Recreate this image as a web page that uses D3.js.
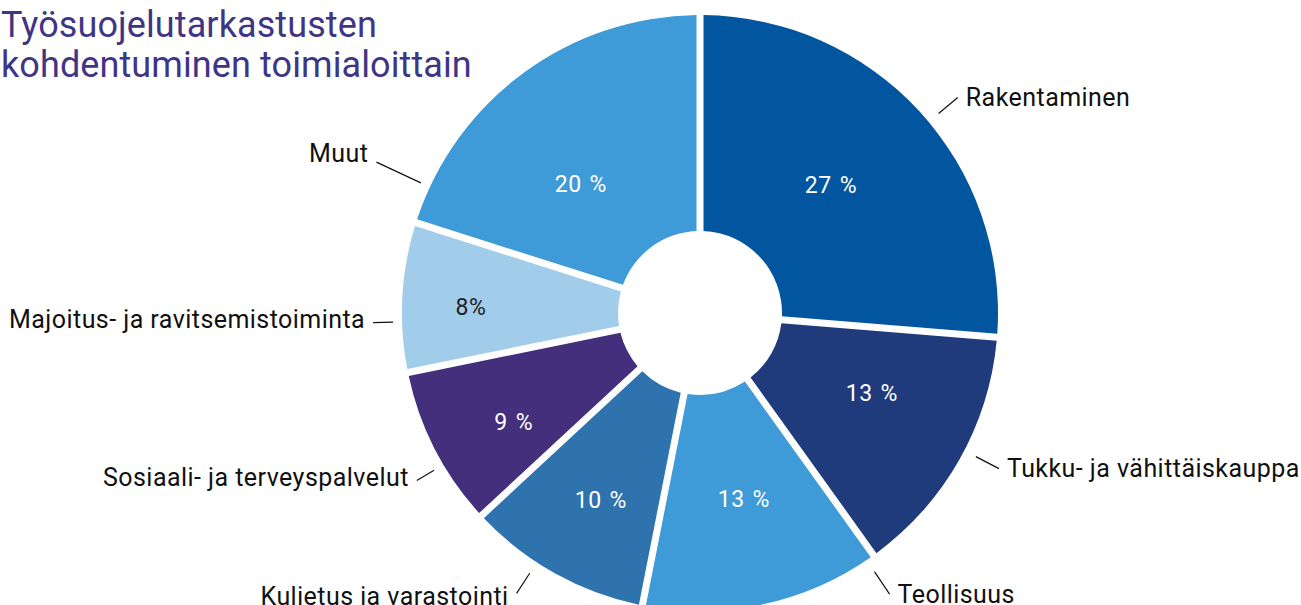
<!DOCTYPE html>
<html>
<head>
<meta charset="utf-8">
<script src="https://cdn.jsdelivr.net/npm/d3@7"></script>
<style>
  html, body { margin: 0; padding: 0; background: #fff; }
  svg { display: block; }
</style>
</head>
<body>
<svg id="chart" width="1301" height="605"></svg>
<script>
// ---- data ----
const categories = ["Rakentaminen", "Tukku- ja vähittäiskauppa", "Teollisuus", "Kuljetus ja varastointi", "Sosiaali- ja terveyspalvelut", "Majoitus- ja ravitsemistoiminta", "Muut"];
// slice sizes
const values = [26.3, 13.8, 13.0, 10.0, 8.7, 8.1, 20.1];
const valueLabels = ["27 %", "13 %", "13 %", "10 %", "9 %", "8%", "20 %"];
const titleLines = ["Työsuojelutarkastusten", "kohdentuminen toimialoittain"];

// ---- styling / layout ----
const colors = ["#02569f", "#203b7b", "#3f9bd7", "#2e72ae", "#432f7b", "#a1cdeb", "#3f9bd7"];
const valueTextColors = ["#fff", "#fff", "#fff", "#fff", "#fff", "#222", "#fff"];
// placement of value labels: angle (deg, clockwise from top) and radius
const valuePosAngle = [45.7, 115.2, 166.8, 207.9, 239.6, 271.5, 317.1];
const valuePosRadius = [183, 190, 192, 212, 216, 229, 175];
// leader lines: angle, inner radius, outer radius; text side
const leaderAngle = [50.1, 117.5, 146.0, 213.2, 239.4, 268.3, 295.0];
const leaderR1 = [311, 311, 312, 311, 309, 307, 308];
const leaderR2 = [336, 337, 339, 335, 329, 327, 357];
const textSide = [1, 1, 1, -1, -1, -1, -1];
const textDy = [0, 0, 0, 3, -3, -3, -9];

const W = 1301, H = 605;
const cx = 700, cy = 313;
const outerR = 298, innerR = 82;
const gap = 7;
const fontFam = "Roboto, 'Noto Sans', sans-serif";

const svg = d3.select("#chart");
const g = svg.append("g").attr("transform", `translate(${cx},${cy})`);

const pie = d3.pie().sort(null).value(d => d);
const arcs = pie(values);

const arc = d3.arc()
  .innerRadius(innerR)
  .outerRadius(outerR)
  .padRadius(outerR)
  .padAngle(gap / outerR);

g.selectAll("path.slice")
  .data(arcs)
  .join("path")
  .attr("class", "slice")
  .attr("d", arc)
  .attr("fill", (d, i) => colors[i]);

const rad = a => a * Math.PI / 180;
const px = (a, r) => r * Math.sin(rad(a));
const py = (a, r) => -r * Math.cos(rad(a));

// value labels
g.selectAll("text.val")
  .data(arcs)
  .join("text")
  .attr("class", "val")
  .attr("x", (d, i) => px(valuePosAngle[i], valuePosRadius[i]))
  .attr("y", (d, i) => py(valuePosAngle[i], valuePosRadius[i]))
  .attr("text-anchor", "middle")
  .attr("dominant-baseline", "central")
  .attr("font-family", fontFam)
  .attr("font-size", 23)
  .attr("letter-spacing", 0.6)
  .attr("word-spacing", 1.5)
  .attr("fill", (d, i) => valueTextColors[i])
  .text((d, i) => valueLabels[i]);

// leader lines
g.selectAll("line.leader")
  .data(arcs)
  .join("line")
  .attr("class", "leader")
  .attr("x1", (d, i) => px(leaderAngle[i], leaderR1[i]))
  .attr("y1", (d, i) => py(leaderAngle[i], leaderR1[i]))
  .attr("x2", (d, i) => px(leaderAngle[i], leaderR2[i]))
  .attr("y2", (d, i) => py(leaderAngle[i], leaderR2[i]))
  .attr("stroke", "#111")
  .attr("stroke-width", 1.2);

// category labels
g.selectAll("text.cat")
  .data(arcs)
  .join("text")
  .attr("class", "cat")
  .attr("x", (d, i) => px(leaderAngle[i], leaderR2[i]) + textSide[i] * 8)
  .attr("y", (d, i) => py(leaderAngle[i], leaderR2[i]) + textDy[i])
  .attr("text-anchor", (d, i) => textSide[i] > 0 ? "start" : "end")
  .attr("dominant-baseline", "central")
  .attr("font-family", fontFam)
  .attr("font-size", 25)
  .attr("letter-spacing", 0.45)
  .attr("fill", "#111")
  .text((d, i) => categories[i]);

// title
svg.append("text")
  .attr("x", 1)
  .attr("y", 0)
  .attr("font-family", fontFam)
  .attr("font-size", 36)
  .attr("letter-spacing", 0.1)
  .attr("fill", "#3f3585")
  .selectAll("tspan")
  .data(titleLines)
  .join("tspan")
  .attr("x", 1)
  .attr("y", (d, i) => 37 + i * 40)
  .text(d => d);
</script>
</body>
</html>
